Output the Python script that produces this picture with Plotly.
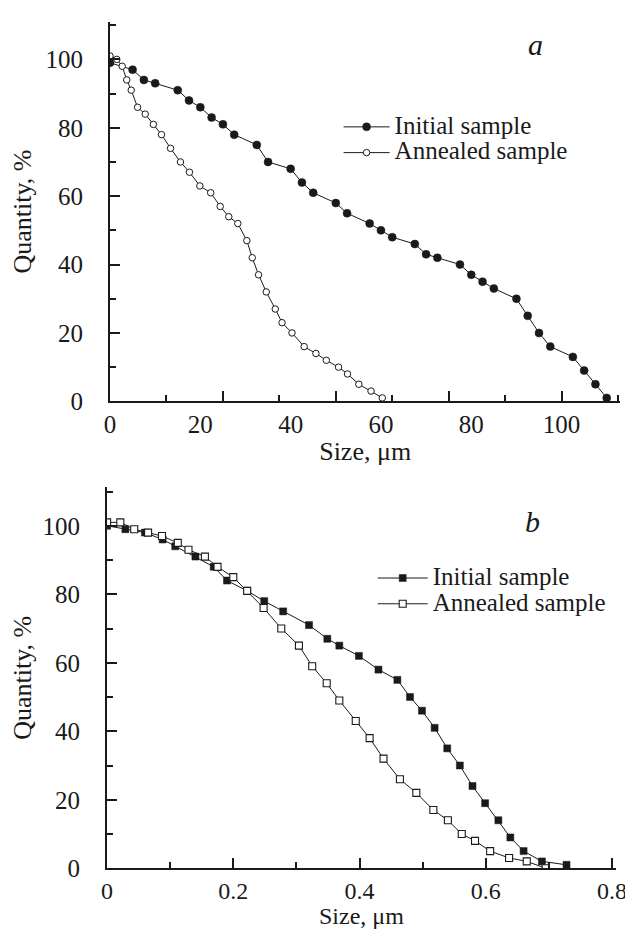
import plotly.graph_objects as go

# ---------------- data ----------------
# Panel a: size in um, quantity in %
a_initial_size = [0, 5, 7.5, 10, 15, 17.5, 20, 22.5, 25, 27.5, 32.5, 35, 40, 42.5, 45,
                  50, 52.5, 57.5, 60, 62.5, 67.5, 70, 72.5, 77.5, 80, 82.5, 85, 90,
                  92.5, 95, 97.5, 102.5, 105, 107.5, 110]
a_initial_qty = [99, 97, 94, 93, 91, 88, 86, 83, 81, 78, 75, 70, 68, 64, 61,
                 58, 55, 52, 50, 48, 46, 43, 42, 40, 37, 35, 33, 30,
                 25, 20, 16, 13, 9, 5, 1]

a_annealed_size = [0, 1.5, 2.7, 3.7, 4.7, 6.1, 7.8, 9.6, 11.4, 13.4, 15.6, 17.6, 19.9,
                   22.3, 24.4, 26.3, 28.3, 30.3, 31.5, 32.9, 34.6, 36.6, 38.1, 40.3,
                   43.0, 45.6, 47.9, 50.6, 52.6, 55.1, 57.8, 60.3]
a_annealed_qty = [101, 100, 98, 94, 91, 86, 84, 81, 78, 74, 70, 67, 63,
                  61, 57, 54, 52, 47, 42, 37, 32, 27, 23, 20,
                  16, 14, 12, 10, 8, 5, 3, 1]

# Panel b: size in um, quantity in %
b_initial_size = [0, 0.029, 0.06, 0.088, 0.108, 0.14, 0.169, 0.19, 0.222, 0.249, 0.279,
                  0.32, 0.349, 0.368, 0.399, 0.43, 0.46, 0.48, 0.499, 0.519, 0.539,
                  0.559, 0.579, 0.599, 0.62, 0.639, 0.66, 0.689, 0.728]
b_initial_qty = [100, 99, 98, 96, 94, 91, 88, 84, 81, 78, 75,
                 71, 67, 65, 62, 58, 55, 50, 46, 41, 35,
                 30, 24, 19, 14, 9, 5, 2, 1]

b_annealed_size = [0, 0.021, 0.043, 0.065, 0.087, 0.112, 0.129, 0.155, 0.175, 0.2, 0.222,
                   0.248, 0.276, 0.304, 0.325, 0.348, 0.368, 0.394, 0.416, 0.438,
                   0.464, 0.49, 0.517, 0.54, 0.562, 0.583, 0.607, 0.637, 0.665, 0.695]
b_annealed_qty = [101, 101, 99, 98, 97, 95, 93, 91, 88, 85, 81,
                  76, 70, 65, 59, 54, 49, 43, 38, 32,
                  26, 22, 17, 14, 10, 8, 5, 3, 2, 0]

series_names = ["Initial sample", "Annealed sample"]

# tick marks / labels
a_x_labels = [0, 20, 40, 60, 80, 100]
a_x_major_marks = [0, 25, 50, 75, 100]
a_x_minor_marks = [12.5, 37.5, 62.5, 87.5, 112.5]
q_labels = [0, 20, 40, 60, 80, 100]
b_x_labels = [0, 0.2, 0.4, 0.6, 0.8]

# ---------------- figure ----------------
W, H = 633, 936
FONT = "Liberation Serif"
INK = "#1a1a1a"


def px_x(p):
    return p / W


def px_y(p):
    return 1 - p / H


def legend_name(s):
    return '<span style="font-size:25px">' + s + '</span>'


fig = go.Figure()

line_style = dict(color=INK, width=1)

fig.add_trace(go.Scatter(
    x=a_initial_size, y=a_initial_qty, name=legend_name(series_names[0]),
    mode="lines+markers", xaxis="x", yaxis="y", legend="legend",
    line=line_style,
    marker=dict(symbol="circle", size=8, color=INK, line=dict(color=INK, width=0.5)),
))
fig.add_trace(go.Scatter(
    x=a_annealed_size, y=a_annealed_qty, name=legend_name(series_names[1]),
    mode="lines+markers", xaxis="x3", yaxis="y", legend="legend",
    line=line_style,
    marker=dict(symbol="circle", size=6.5, color="white", line=dict(color=INK, width=1)),
))
fig.add_trace(go.Scatter(
    x=b_initial_size, y=b_initial_qty, name=legend_name(series_names[0]),
    mode="lines+markers", xaxis="x2", yaxis="y2", legend="legend2",
    line=line_style,
    marker=dict(symbol="square", size=7, color=INK, line=dict(color=INK, width=0.5)),
))
fig.add_trace(go.Scatter(
    x=b_annealed_size, y=b_annealed_qty, name=legend_name(series_names[1]),
    mode="lines+markers", xaxis="x2", yaxis="y2", legend="legend2",
    line=line_style,
    marker=dict(symbol="square", size=7, color="white", line=dict(color=INK, width=1.1)),
))

tick_font = dict(family=FONT, size=25, color=INK)
title_font = dict(family=FONT, size=26, color=INK)

axis_common = dict(
    showgrid=False, zeroline=False, showline=True, linecolor=INK, linewidth=2,
    ticks="inside", tickcolor=INK, tickwidth=1.5, ticklen=10,
    tickfont=tick_font, mirror=False,
)

a_dom_x = [px_x(98.5), px_x(622)]
a_dom_y = [px_y(399.3), px_y(14)]
b_dom_x = [px_x(95.5), px_x(618)]
b_dom_y = [px_y(873.3), px_y(486.7)]

legend_common = dict(
    xanchor="left", yanchor="middle", bgcolor="rgba(0,0,0,0)",
    font=dict(family=FONT, size=17.5, color=INK),
)

fig.update_layout(
    width=W, height=H,
    margin=dict(l=0, r=0, t=0, b=0),
    paper_bgcolor="white", plot_bgcolor="white",
    font=dict(family=FONT, color=INK),
    xaxis=dict(
        **axis_common, domain=a_dom_x, anchor="y", range=[0, 113],
        tickmode="array", tickvals=a_x_major_marks, showticklabels=False,
        minor=dict(tickmode="array", tickvals=a_x_minor_marks, ticks="inside",
                   ticklen=6, tickwidth=1.5, tickcolor=INK),
        title=dict(text="Size, μm", font=title_font, standoff=39),
    ),
    xaxis3=dict(
        overlaying="x", anchor="y", side="bottom", range=[0, 113],
        showgrid=False, zeroline=False, showline=False, ticks="",
        tickmode="array", tickvals=a_x_labels, tickfont=tick_font,
        ticklabelstandoff=6,
    ),
    yaxis=dict(
        **axis_common, domain=a_dom_y, anchor="x", range=[0, 111],
        tickmode="array", tickvals=q_labels,
        minor=dict(tick0=0, dtick=10, ticks="inside", ticklen=6, tickwidth=1.5, tickcolor=INK),
        ticklabelstandoff=20,
        title=dict(text="Quantity, %", font=title_font, standoff=12),
    ),
    xaxis2=dict(
        **{k: v for k, v in axis_common.items() if k != "tickfont"},
        tickfont=dict(family=FONT, size=24, color=INK),
        domain=b_dom_x, anchor="y2", range=[0, 0.807],
        tickmode="array", tickvals=b_x_labels,
        minor=dict(tick0=0, dtick=0.1, ticks="inside", ticklen=6, tickwidth=1.5, tickcolor=INK),
        ticklabelstandoff=0,
    ),
    yaxis2=dict(
        **axis_common, domain=b_dom_y, anchor="x2", range=[0, 111.2],
        tickmode="array", tickvals=q_labels,
        minor=dict(tick0=0, dtick=10, ticks="inside", ticklen=6, tickwidth=1.5, tickcolor=INK),
        ticklabelstandoff=20,
        title=dict(text="Quantity, %", font=title_font, standoff=12),
    ),
    legend=dict(**legend_common, x=px_x(333), y=px_y(134), itemwidth=46),
    legend2=dict(**legend_common, x=px_x(368), y=px_y(592), itemwidth=50),
    showlegend=True,
    annotations=[
        dict(text="<i>a</i>", x=px_x(535), y=px_y(37), xref="paper", yref="paper",
             xanchor="center", yanchor="middle",
             showarrow=False, font=dict(family=FONT, size=30, color=INK)),
        dict(text="<i>b</i>", x=px_x(532), y=px_y(521), xref="paper", yref="paper",
             xanchor="center", yanchor="middle",
             showarrow=False, font=dict(family=FONT, size=30, color=INK)),
        dict(text="Size, μm", x=px_x(357), y=0, xref="paper", yref="paper",
             xanchor="center", yanchor="bottom", borderpad=0,
             showarrow=False, font=dict(family=FONT, size=24, color=INK)),
    ],
)

fig.write_html("out.html")
